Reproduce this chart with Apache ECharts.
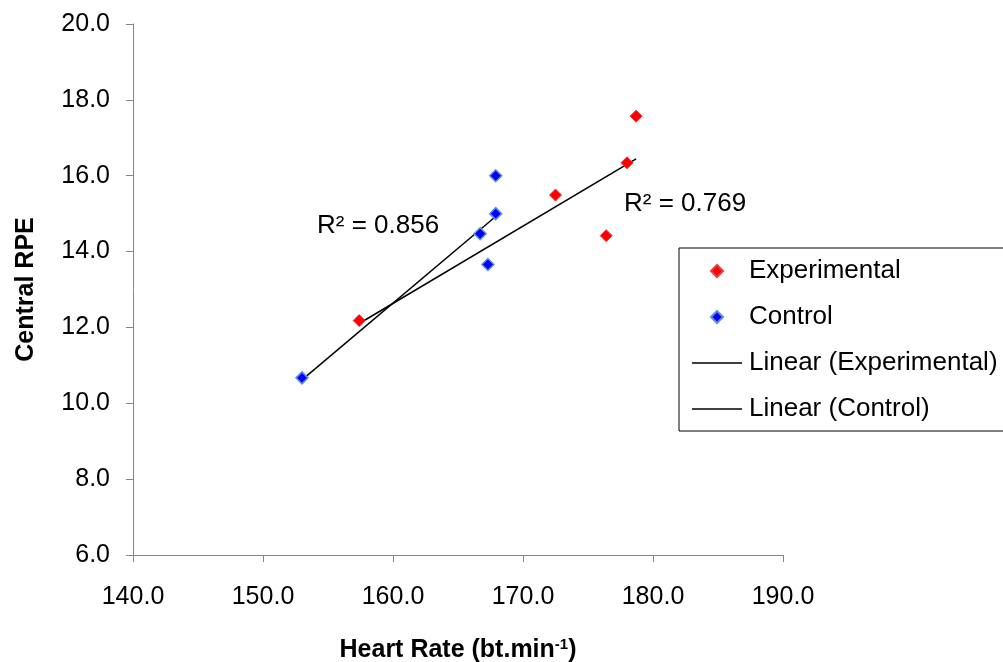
<!DOCTYPE html>
<html>
<head>
<meta charset="utf-8">
<script src="https://cdn.jsdelivr.net/npm/echarts@6/dist/echarts.min.js"></script>
<style>
html,body{margin:0;padding:0;background:#fff;}
#chart{width:1003px;height:662px;}
</style>
</head>
<body>
<div id="chart"></div>
<script>
// ---- data ----
var expHR  = [157.4, 172.5, 176.4, 178.0, 178.7];
var expRPE = [12.18, 15.49, 14.42, 16.34, 17.57];
var ctlHR  = [153.0, 166.7, 167.3, 167.9, 167.9];
var ctlRPE = [10.67, 14.47, 13.66, 15.0, 16.0];
var r2Exp = 'R² = 0.769';
var r2Ctl = 'R² = 0.856';
var xTicks = [140, 150, 160, 170, 180, 190];
var yTicks = [6, 8, 10, 12, 14, 16, 18, 20];

function pairs(xs, ys){ return xs.map(function(x,i){ return [x, ys[i]]; }); }
function fitLine(xs, ys){
  var n = xs.length, sx=0, sy=0, sxx=0, sxy=0;
  for (var i=0;i<n;i++){ sx+=xs[i]; sy+=ys[i]; sxx+=xs[i]*xs[i]; sxy+=xs[i]*ys[i]; }
  var b = (n*sxy - sx*sy)/(n*sxx - sx*sx);
  var a = (sy - b*sx)/n;
  var x0 = Math.min.apply(null, xs), x1 = Math.max.apply(null, xs);
  return [[x0, a+b*x0],[x1, a+b*x1]];
}
var expFit = fitLine(expHR, expRPE);
var ctlFit = fitLine(ctlHR, ctlRPE);

var FONT = "'Liberation Sans', Arial, sans-serif";
var axisGray = '#868686';
var DIAMOND = 'path://M5,0 L10,5 L5,10 L0,5 Z';
var LINEICON = 'path://M0,0 L100,0 L100,3 L0,3 Z';

var chart = echarts.init(document.getElementById('chart'), null, {renderer:'canvas'});
chart.setOption({
  animation: false,
  backgroundColor: '#ffffff',
  textStyle: {fontFamily: FONT},
  grid: {left: 133, right: 220, top: 24, bottom: 107, containLabel: false, outerBoundsMode: 'none'},
  xAxis: {
    type: 'value', min: xTicks[0], max: xTicks[xTicks.length-1], interval: 10,
    axisLine: {show: true, onZero: false, lineStyle: {color: axisGray, width: 1}},
    axisTick: {show: true, inside: false, length: 7, lineStyle: {color: axisGray}},
    splitLine: {show: false},
    axisLabel: {color: '#000', fontSize: 25, fontFamily: FONT, margin: 30,
      formatter: function(v){ return v.toFixed(1); }},
    name: '{b|Heart Rate (bt.min}{s|-1}{b|)}',
    nameLocation: 'middle', nameGap: 82,
    nameTextStyle: {
      fontFamily: FONT,
      rich: {
        b: {fontSize: 25, fontWeight: 'bold', color: '#000', fontFamily: FONT, lineHeight: 26, verticalAlign: 'bottom'},
        s: {fontSize: 15, fontWeight: 'bold', color: '#000', fontFamily: FONT, lineHeight: 26, verticalAlign: 'top'}
      }
    }
  },
  yAxis: {
    type: 'value', min: yTicks[0], max: yTicks[yTicks.length-1], interval: 2,
    axisLine: {show: true, onZero: false, lineStyle: {color: axisGray, width: 1}},
    axisTick: {show: true, inside: false, length: 7, lineStyle: {color: axisGray}},
    splitLine: {show: false},
    axisLabel: {color: '#000', fontSize: 25, fontFamily: FONT, margin: 23,
      formatter: function(v){ return v.toFixed(1); }},
    name: 'Central RPE', nameLocation: 'middle', nameGap: 94, nameRotate: 90,
    nameTextStyle: {fontSize: 25, fontWeight: 'bold', color: '#000', fontFamily: FONT}
  },
  legend: {
    orient: 'vertical', left: 679, top: 248,
    padding: [10, 13, 9, 13],
    itemWidth: 50, itemHeight: 12, itemGap: 20,
    symbolKeepAspect: true,
    borderColor: '#000', borderWidth: 1, backgroundColor: '#fff',
    textStyle: {fontSize: 26, color: '#000', fontFamily: FONT, padding: [0, 0, 0, 2]},
    data: [
      {name: 'Experimental', icon: DIAMOND},
      {name: 'Control', icon: DIAMOND},
      {name: 'Linear (Experimental)', icon: LINEICON},
      {name: 'Linear (Control)', icon: LINEICON}
    ]
  },
  series: [
    {
      name: 'Linear (Experimental)', type: 'line', data: expFit,
      symbol: 'none', showSymbol: false, z: 2,
      lineStyle: {color: '#000', width: 1.5}, itemStyle: {color: '#000'}
    },
    {
      name: 'Linear (Control)', type: 'line', data: ctlFit,
      symbol: 'none', showSymbol: false, z: 2,
      lineStyle: {color: '#000', width: 1.5}, itemStyle: {color: '#000'}
    },
    {
      name: 'Experimental', type: 'scatter', data: pairs(expHR, expRPE),
      symbol: 'diamond', symbolSize: 12, z: 3,
      itemStyle: {color: '#ff0000', borderColor: '#e83a3a', borderWidth: 1, opacity: 1}
    },
    {
      name: 'Control', type: 'scatter', data: pairs(ctlHR, ctlRPE),
      symbol: 'diamond', symbolSize: 12, z: 3,
      itemStyle: {color: '#0000ff', borderColor: '#5b8fd6', borderWidth: 1.5, opacity: 1}
    }
  ],
  graphic: [
    {type: 'text', left: 317, top: 213, z: 10,
      style: {text: r2Ctl, fontSize: 26, fill: '#000', fontFamily: FONT}},
    {type: 'text', left: 624, top: 191, z: 10,
      style: {text: r2Exp, fontSize: 26, fill: '#000', fontFamily: FONT}}
  ]
});
</script>
</body>
</html>
